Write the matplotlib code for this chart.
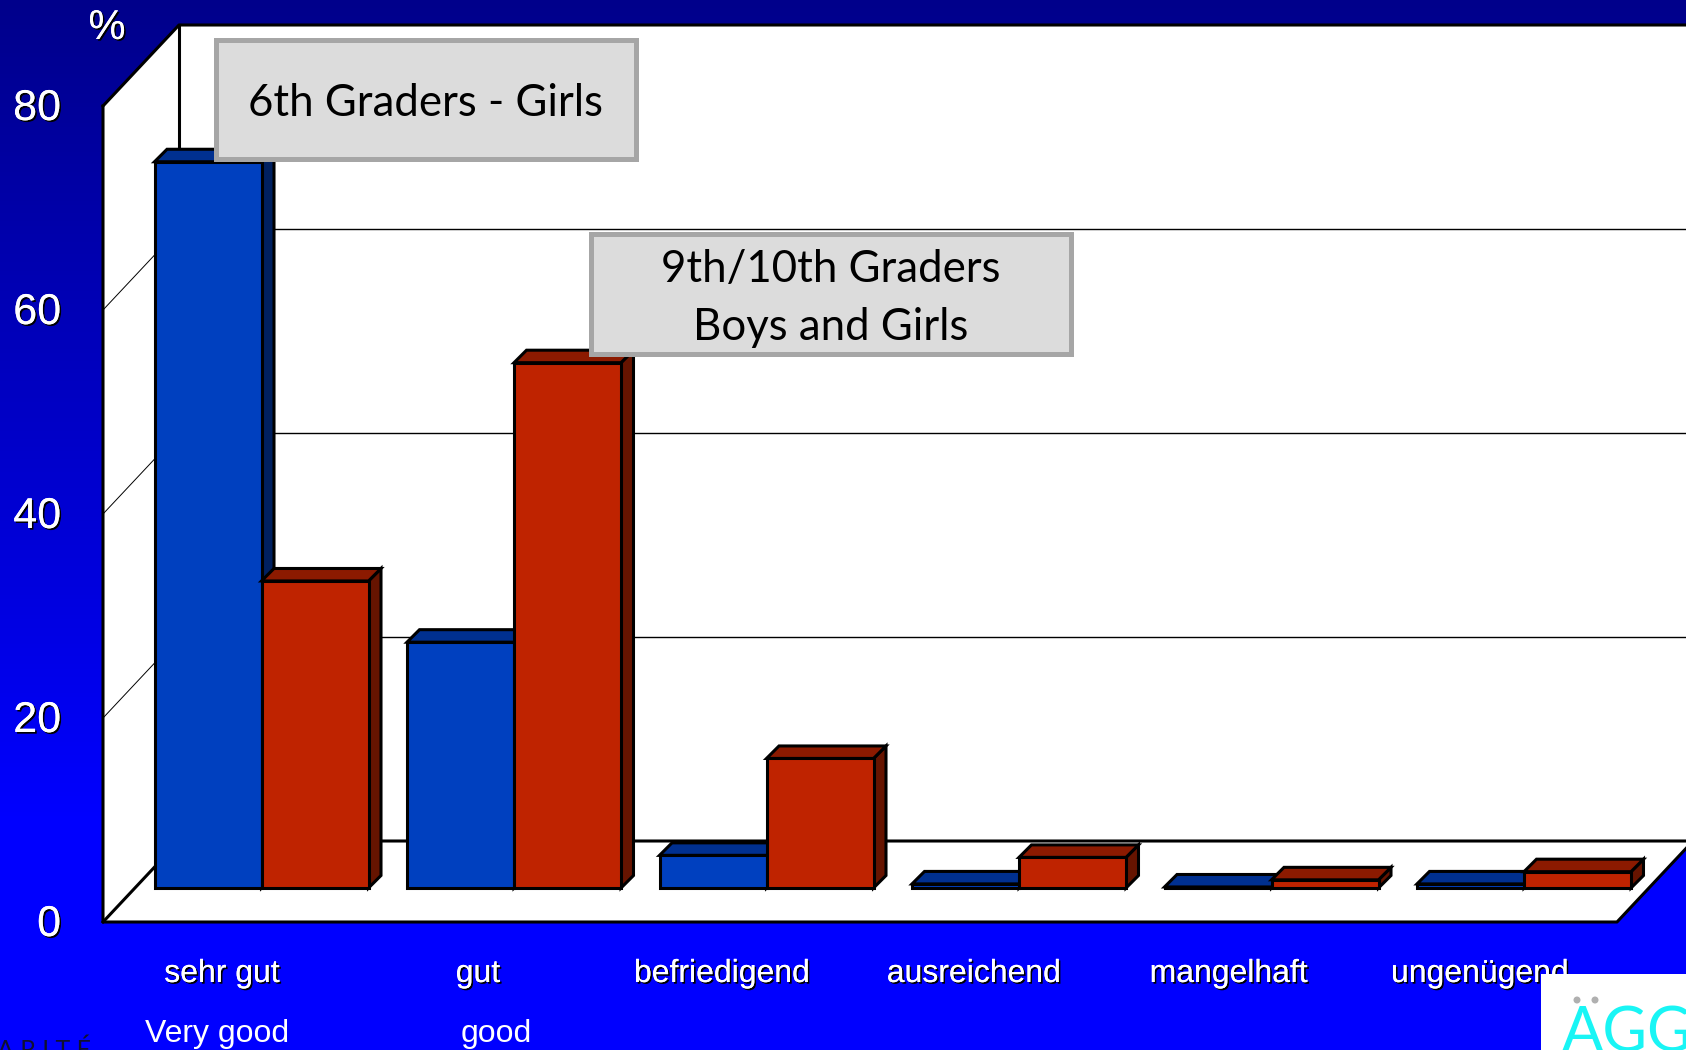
import numpy as np
import matplotlib
matplotlib.use("Agg")
import matplotlib.pyplot as plt
import matplotlib.patheffects as pe
from matplotlib.patches import Polygon, Rectangle, Circle

# --- DATA ---
categories = ["sehr gut", "gut", "befriedigend", "ausreichend", "mangelhaft", "ungenügend"]
categories_en = ["Very good", "good"]
girls_6th = [71.2, 24.1, 3.2, 0.4, 0.1, 0.4]
grades_9_10 = [30.1, 51.5, 12.7, 3.0, 0.8, 1.6]
y_ticks = [0, 20, 40, 60, 80]

# --- CONFIGURATION ---
W, H = 1686, 1050
BLUE = ("#0040BF", "#003090", "#002060")
RED = ("#BF2300", "#8C1A00", "#661400")

# chart scale: one category = 252.5 px, one percent = 10.2 px
X_PX, Y_PX = 252.5, 10.2
X0_PX, Y0_PX = 261.5, 922.0

DEPTH_X, DEPTH_Y = 76 / X_PX, 81 / Y_PX
WALL_L, WALL_R = (103 - X0_PX) / X_PX, (1617 - X0_PX) / X_PX
BAR_W = 107 / X_PX
BAR_BASE = 34 / Y_PX
BAR_DX, BAR_DY = 12.5 / X_PX, 12.5 / Y_PX

LABEL_X = [222, 478, 722, 974, 1229, 1480]
LABEL_EN_X = [217, 496]

shadow = [pe.withSimplePatchShadow(offset=(1.2, -1.2), shadow_rgbFace="black", alpha=1.0), pe.Normal()]


def draw_bar(ax, left, value, colors):
    """One 3D looking bar: side and top faces first, then the front."""
    right = left + BAR_W
    top = BAR_BASE + value
    edge = dict(edgecolor="black", linewidth=2.2, joinstyle="miter", zorder=3)
    ax.add_patch(Polygon([(right, BAR_BASE), (right + BAR_DX, BAR_BASE + BAR_DY),
                          (right + BAR_DX, top + BAR_DY), (right, top)], facecolor=colors[2], **edge))
    ax.add_patch(Polygon([(left, top), (left + BAR_DX, top + BAR_DY),
                          (right + BAR_DX, top + BAR_DY), (right, top)], facecolor=colors[1], **edge))
    ax.add_patch(Rectangle((left, BAR_BASE), BAR_W, value, facecolor=colors[0], **edge))


fig = plt.figure(figsize=(W / 100, H / 100), dpi=100)

# --- Background gradient ---
bg = fig.add_axes([0, 0, 1, 1], zorder=0)
bg.axis("off")
grad = np.clip(np.linspace(0, 1, 256) / 0.78, 0, 1)
img = np.zeros((256, 1, 3))
img[:, 0, 2] = (139 + (255 - 139) * grad) / 255
bg.imshow(img, aspect="auto", extent=(0, 1, 0, 1))

# --- Chart axes, full figure so the walls can run off the edge ---
ax = fig.add_axes([0, 0, 1, 1], zorder=1)
ax.patch.set_alpha(0)
ax.axis("off")
ax.set_xlim(-X0_PX / X_PX, (W - X0_PX) / X_PX)
ax.set_ylim((Y0_PX - H) / Y_PX, Y0_PX / Y_PX)

top = y_ticks[-1]
back_l, back_r = WALL_L + DEPTH_X, WALL_R + DEPTH_X
ax.add_patch(Polygon([(WALL_L, 0), (WALL_L, top), (back_l, top + DEPTH_Y), (back_r, top + DEPTH_Y),
                      (back_r, DEPTH_Y), (WALL_R, 0)], facecolor="white", edgecolor="none"))

for t in y_ticks[1:-1]:
    ax.plot([WALL_L, back_l], [t, t + DEPTH_Y], color="black", lw=0.7)
    ax.plot([back_l, back_r], [t + DEPTH_Y, t + DEPTH_Y], color="black", lw=1.0)

thick = dict(color="black", lw=2.2, solid_capstyle="projecting")
ax.plot([WALL_L, WALL_L, WALL_R, back_r], [top, 0, 0, DEPTH_Y], **thick)
ax.plot([WALL_L, back_l, back_r], [top, top + DEPTH_Y, top + DEPTH_Y], **thick)
ax.plot([WALL_L, back_l, back_r], [0, DEPTH_Y, DEPTH_Y], **thick)
ax.plot([back_l, back_l], [DEPTH_Y, top + DEPTH_Y], **thick)

for i in range(len(categories)):
    draw_bar(ax, i - BAR_W, girls_6th[i], BLUE)
    draw_bar(ax, i, grades_9_10[i], RED)

for t in y_ticks:
    ax.text((61 - X0_PX) / X_PX, t - 3 / Y_PX, str(t), ha="right", va="center", color="white",
            fontsize=31, family="Liberation Sans", path_effects=shadow)

# --- Overlay in pixel coordinates: labels, boxes, logo ---
ov = fig.add_axes([0, 0, 1, 1], zorder=2)
ov.patch.set_alpha(0)
ov.axis("off")
ov.set_xlim(0, W)
ov.set_ylim(H, 0)

ov.text(107, 28, "%", ha="center", va="center", color="white", fontsize=30,
        family="Liberation Sans", path_effects=shadow)

for x, name in zip(LABEL_X, categories):
    ov.text(x, 974, name, ha="center", va="center", color="white", fontsize=23,
            family="Liberation Sans", path_effects=shadow)
for x, name in zip(LABEL_EN_X, categories_en):
    ov.text(x, 1034, name, ha="center", va="center", color="white", fontsize=23,
            family="Liberation Sans")

ov.text(-3, 1058, "A R I T É", ha="left", va="baseline", color="#101030", fontsize=18, family="Lato")

box = dict(facecolor="#DCDCDC", edgecolor="#A6A6A6", linewidth=3.6, joinstyle="miter")
ov.add_patch(Rectangle((216, 40), 420, 119, **box))
ov.text(425, 103, "6th Graders - Girls", ha="center", va="center", color="black", fontsize=31.5, family="Lato")
ov.add_patch(Rectangle((591, 234), 480, 120, **box))
ov.text(831, 270, "9th/10th Graders", ha="center", va="center", color="black", fontsize=31.5, family="Lato")
ov.text(831, 327, "Boys and Girls", ha="center", va="center", color="black", fontsize=31.5, family="Lato")

# logo sits on top of the last category label
ov.add_patch(Rectangle((1541, 974), W - 1541, H - 974, facecolor="white", edgecolor="none", zorder=5))
ov.add_patch(Circle((1577, 1000), 3.5, facecolor="#B0B0B0", edgecolor="none", zorder=6))
ov.add_patch(Circle((1595, 1000), 3.5, facecolor="#B0B0B0", edgecolor="none", zorder=6))
ov.text(1562, 1052, "AGG", ha="left", va="baseline", color="#19F5F5", fontsize=44, family="Lato", zorder=6)

fig.savefig("out.png", dpi=100)
plt.close(fig)
